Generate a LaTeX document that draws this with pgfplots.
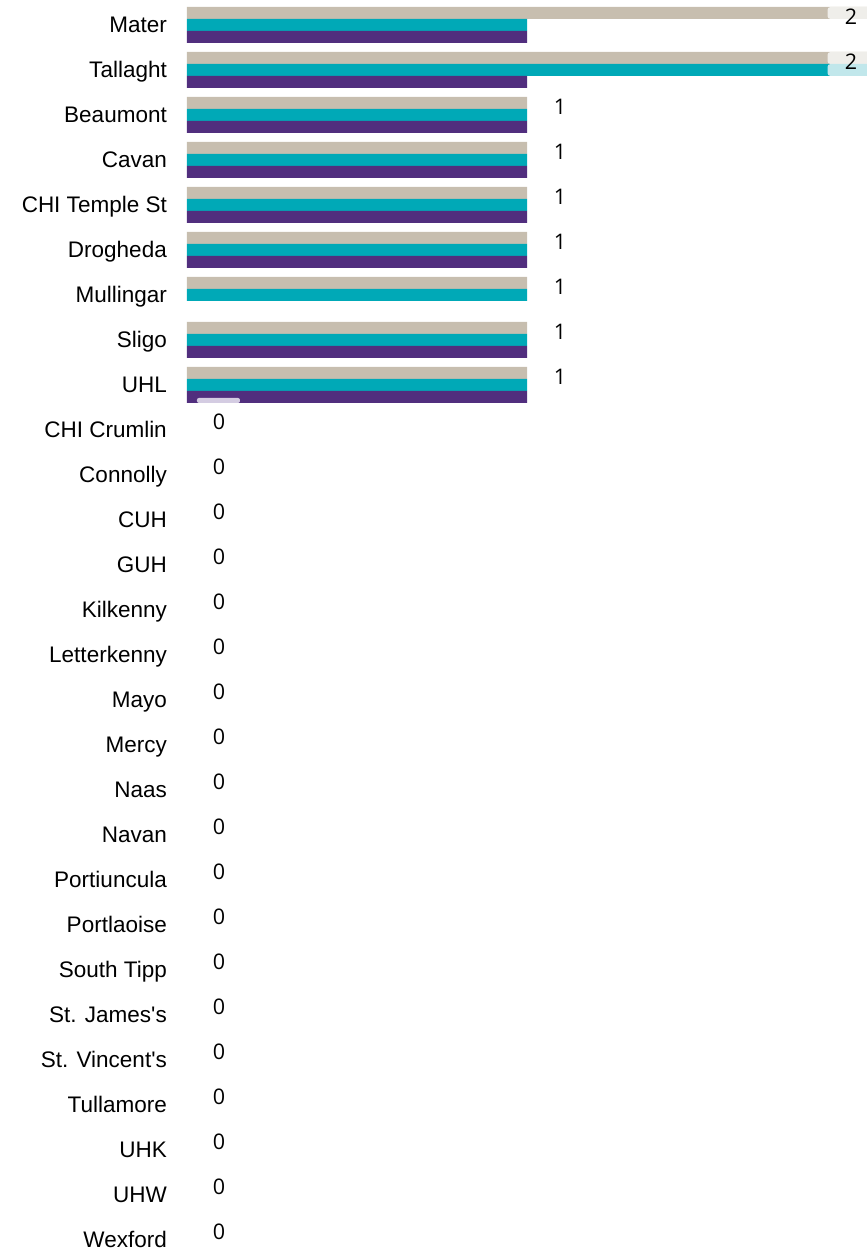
\documentclass[border=0pt]{standalone}
\usepackage{pgfplots}
\pgfplotsset{compat=1.18}
\usepackage{fontspec}
\setmainfont{Liberation Sans}[Ligatures=TeXOff]
\newfontfamily\valfont{Open Sans}
\definecolor{cbeige}{RGB}{199,190,175}
\definecolor{cteal}{RGB}{0,169,183}
\definecolor{cpurple}{RGB}{81,46,126}
\definecolor{lbeige}{RGB}{239,238,234}
\definecolor{lteal}{RGB}{193,231,235}
\definecolor{lpurple}{RGB}{212,204,226}
\begin{document}
\begin{tikzpicture}
\useasboundingbox (0,0) rectangle (867pt,1251pt);
\begin{axis}[
  at={(187pt,0pt)}, anchor=south west,
  scale only axis, width=680pt, height=1251pt,
  xmin=0, xmax=2, ymin=-0.24444, ymax=27.55556,
  clip=false,
  axis line style={draw=none}, tick style={draw=none},
  xtick=\empty,
  ytick={0,...,27},
  yticklabels={Wexford,UHW,UHK,Tullamore,St. Vincent's,St. James's,South Tipp,Portlaoise,Portiuncula,Navan,Naas,Mercy,Mayo,Letterkenny,Kilkenny,GUH,CUH,Connolly,CHI Crumlin,UHL,Sligo,Mullingar,Drogheda,CHI Temple St,Cavan,Beaumont,Tallaght,Mater},
  yticklabel style={anchor=base east, inner sep=0pt, xshift=-20pt, yshift=-8pt, font=\fontsize{22.5}{27}\selectfont},
]
% beige series (zero values draw no bar)
\addplot[xbar, bar width=12pt, bar shift=12pt, fill=cbeige, draw=none] coordinates {
(2,27) (2,26) (1,25) (1,24) (1,23) (1,22) (1,21) (1,20) (1,19)};
% teal series
\addplot[xbar, bar width=12pt, bar shift=0pt, fill=cteal, draw=none] coordinates {
(1,27) (2,26) (1,25) (1,24) (1,23) (1,22) (1,21) (1,20) (1,19)};
% purple series (Mullingar = 0)
\addplot[xbar, bar width=12pt, bar shift=-12pt, fill=cpurple, draw=none] coordinates {
(1,27) (1,26) (1,25) (1,24) (1,23) (1,22) (1,20) (1,19)};
% label backgrounds
\addplot[draw=none, nodes near coords={}, every node near coord/.style={anchor=center, fill=lbeige, minimum width=45pt, minimum height=12pt, inner sep=0pt, rounded corners=3pt}] coordinates {(1.95,27.2667) (1.95,26.2667)};
\addplot[draw=none, nodes near coords={}, every node near coord/.style={anchor=center, fill=lteal, minimum width=45pt, minimum height=12pt, inner sep=0pt, rounded corners=3pt}] coordinates {(1.95,26.0)};
\addplot[draw=none, nodes near coords={}, every node near coord/.style={anchor=center, fill=lpurple, minimum width=43pt, minimum height=5pt, inner sep=0pt, rounded corners=2pt}] coordinates {(0.0926,18.656)};
% value labels
\addplot[draw=none, nodes near coords, point meta=explicit symbolic,
  every node near coord/.style={anchor=center, inner sep=0pt, font=\valfont\fontsize{21.5}{25}\selectfont}] coordinates {
(1.953,27.185)[2] (1.953,26.185)[2]
(1.097,25.185)[1] (1.097,24.185)[1] (1.097,23.185)[1] (1.097,22.185)[1] (1.097,21.185)[1] (1.097,20.185)[1] (1.097,19.185)[1]
(0.094,18.185)[0] (0.094,17.185)[0] (0.094,16.185)[0] (0.094,15.185)[0] (0.094,14.185)[0] (0.094,13.185)[0] (0.094,12.185)[0] (0.094,11.185)[0] (0.094,10.185)[0] (0.094,9.185)[0] (0.094,8.185)[0] (0.094,7.185)[0] (0.094,6.185)[0] (0.094,5.185)[0] (0.094,4.185)[0] (0.094,3.185)[0] (0.094,2.185)[0] (0.094,1.185)[0] (0.094,0.185)[0]};
\end{axis}
\end{tikzpicture}
\end{document}
